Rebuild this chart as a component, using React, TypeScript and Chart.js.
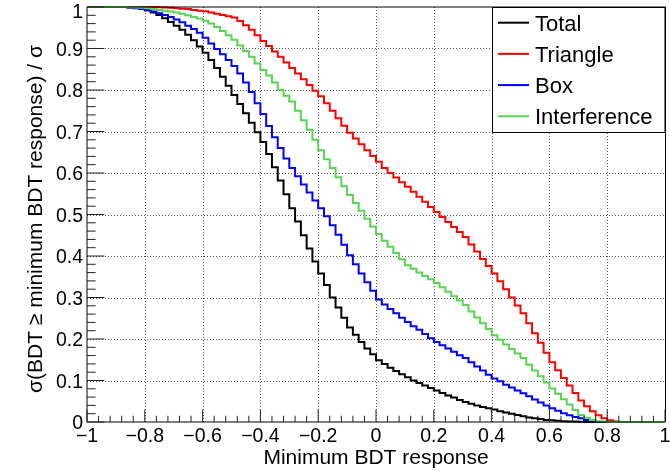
import React, { useEffect, useRef } from 'react';
import { Chart, registerables } from 'chart.js';

Chart.register(...registerables);

// ---- Data (histogram bins of width 0.02 starting at -1) ----
const BIN_LOW = -1;
const BIN_WIDTH = 0.02;

const seriesNames = ['Total', 'Triangle', 'Box', 'Interference'];
const seriesColors = ['#000000', '#ff0000', '#0000ff', '#59d454'];

const totalValues = [
  1, 1, 1, 1, 1, 1, 1,
  0.999, 0.998, 0.996, 0.992, 0.987, 0.981, 0.973, 0.964, 0.955,
  0.945, 0.933, 0.920, 0.905, 0.890, 0.872, 0.853, 0.832, 0.810, 0.788,
  0.766, 0.744, 0.721, 0.698, 0.675, 0.646, 0.614, 0.582, 0.549, 0.515,
  0.483, 0.450, 0.418, 0.387, 0.358, 0.330, 0.300, 0.276, 0.251, 0.228,
  0.210, 0.193, 0.177, 0.163, 0.149, 0.140, 0.131, 0.123, 0.115, 0.108,
  0.100, 0.094, 0.088, 0.082, 0.076, 0.070, 0.064, 0.059, 0.053, 0.048,
  0.044, 0.040, 0.036, 0.033, 0.030, 0.026, 0.023, 0.020, 0.017, 0.014,
  0.011, 0.009, 0.007, 0.005, 0.004, 0.003, 0.002, 0.0015, 0.001, 0.0005,
  0, 0, 0, 0, 0, 0, 0, 0, 0, 0, 0, 0, 0, 0,
];

const triangleValues = [
  1, 1, 1, 1, 1, 1, 1, 1, 1, 1, 1, 1,
  0.9995, 0.999, 0.998, 0.997,
  0.996, 0.995, 0.993, 0.991, 0.990, 0.987, 0.984, 0.981, 0.978, 0.975,
  0.966, 0.956, 0.945, 0.932, 0.918, 0.906, 0.893, 0.880, 0.866, 0.853,
  0.840, 0.826, 0.812, 0.798, 0.785, 0.768, 0.750, 0.732, 0.714, 0.697,
  0.683, 0.669, 0.655, 0.641, 0.627, 0.612, 0.600, 0.589, 0.578, 0.567,
  0.555, 0.543, 0.531, 0.518, 0.506, 0.494, 0.482, 0.470, 0.458, 0.446,
  0.428, 0.411, 0.393, 0.376, 0.358, 0.339, 0.320, 0.300, 0.281, 0.262,
  0.238, 0.214, 0.191, 0.167, 0.144, 0.125, 0.106, 0.088, 0.070, 0.052,
  0.038, 0.026, 0.016, 0.009, 0.004, 0.001,
  0, 0, 0, 0, 0, 0, 0, 0,
];

const boxValues = [
  1, 1, 1, 1, 1, 1, 1,
  0.999, 0.997, 0.995, 0.992, 0.989, 0.985, 0.981, 0.976, 0.970,
  0.963, 0.955, 0.947, 0.938, 0.926, 0.912, 0.899, 0.886, 0.872, 0.858,
  0.840, 0.818, 0.795, 0.768, 0.742, 0.713, 0.686, 0.660, 0.635, 0.612,
  0.592, 0.572, 0.553, 0.534, 0.515, 0.496, 0.474, 0.451, 0.427, 0.402,
  0.380, 0.358, 0.337, 0.316, 0.295, 0.283, 0.272, 0.262, 0.251, 0.241,
  0.231, 0.222, 0.212, 0.202, 0.193, 0.185, 0.177, 0.169, 0.161, 0.154,
  0.144, 0.134, 0.124, 0.114, 0.105, 0.098, 0.090, 0.083, 0.076, 0.069,
  0.062, 0.054, 0.047, 0.040, 0.033, 0.027, 0.021, 0.016, 0.012, 0.009,
  0.005, 0.002,
  0, 0, 0, 0, 0, 0, 0, 0, 0, 0, 0, 0,
];

const interferenceValues = [
  1, 1, 1, 1, 1, 1, 1,
  0.9995, 0.999, 0.998, 0.997, 0.995, 0.993, 0.991, 0.989, 0.987,
  0.984, 0.980, 0.976, 0.972, 0.967, 0.960, 0.952, 0.942, 0.932, 0.921,
  0.907, 0.894, 0.880, 0.864, 0.848, 0.835, 0.818, 0.800, 0.786, 0.772,
  0.750, 0.727, 0.704, 0.680, 0.655, 0.633, 0.612, 0.590, 0.568, 0.547,
  0.528, 0.509, 0.490, 0.471, 0.453, 0.437, 0.422, 0.407, 0.392, 0.378,
  0.369, 0.360, 0.352, 0.344, 0.335, 0.325, 0.314, 0.303, 0.293, 0.282,
  0.266, 0.252, 0.238, 0.224, 0.209, 0.198, 0.187, 0.176, 0.165, 0.154,
  0.138, 0.124, 0.110, 0.095, 0.081, 0.068, 0.055, 0.042, 0.029, 0.017,
  0.010, 0.005, 0.002, 0.001,
  0, 0, 0, 0, 0, 0, 0, 0, 0, 0,
];

const xTickValues = [-1, -0.8, -0.6, -0.4, -0.2, 0, 0.2, 0.4, 0.6, 0.8, 1];
const xTickLabels = ['\u22121', '\u22120.8', '\u22120.6', '\u22120.4', '\u22120.2', '0', '0.2', '0.4', '0.6', '0.8', '1'];
const yTickValues = [0, 0.1, 0.2, 0.3, 0.4, 0.5, 0.6, 0.7, 0.8, 0.9, 1];
const yTickLabels = ['0', '0.1', '0.2', '0.3', '0.4', '0.5', '0.6', '0.7', '0.8', '0.9', '1'];
const X_MINOR_STEP = 0.04;
const Y_MINOR_STEP = 0.02;

const xTitle = 'Minimum BDT response';
const yTitle = '\u03c3(BDT \u2265 minimum BDT response) / \u03c3';

const FONT = '"Liberation Sans", Arial, Helvetica, sans-serif';

function toSteps(values: number[]) {
  const pts = values.map((v, i) => ({ x: BIN_LOW + i * BIN_WIDTH, y: v }));
  pts.push({ x: BIN_LOW + values.length * BIN_WIDTH, y: values[values.length - 1] });
  return pts;
}

const rootStyle = {
  id: 'rootStyle',
  beforeDatasetsDraw(chart: any) {
    const { ctx, chartArea: a, scales } = chart;
    const x = scales.x, y = scales.y;
    ctx.save();
    ctx.strokeStyle = '#555';
    ctx.lineWidth = 1;
    ctx.setLineDash([1, 2]);
    for (const v of xTickValues) {
      if (v <= -1 || v >= 1) continue;
      const px = Math.round(x.getPixelForValue(v)) + 0.5;
      ctx.beginPath();
      ctx.moveTo(px, a.top);
      ctx.lineTo(px, a.bottom);
      ctx.stroke();
    }
    for (const v of yTickValues) {
      if (v <= 0 || v >= 1) continue;
      const py = Math.round(y.getPixelForValue(v)) + 0.5;
      ctx.beginPath();
      ctx.moveTo(a.left, py);
      ctx.lineTo(a.right, py);
      ctx.stroke();
    }
    ctx.restore();
  },
  afterDatasetsDraw(chart: any) {
    const { ctx, chartArea: a, scales } = chart;
    const x = scales.x, y = scales.y;
    ctx.save();
    ctx.setLineDash([]);

    // frame
    ctx.strokeStyle = '#000';
    ctx.lineWidth = 1;
    ctx.beginPath();
    ctx.moveTo(a.left, a.top);
    ctx.lineTo(a.right + 0.5, a.top);
    ctx.moveTo(a.right + 0.5, a.top);
    ctx.lineTo(a.right + 0.5, a.bottom);
    ctx.moveTo(a.left, a.bottom);
    ctx.lineTo(a.right, a.bottom);
    ctx.moveTo(a.left, a.top);
    ctx.lineTo(a.left, a.bottom);
    ctx.stroke();

    // ticks
    const h = a.bottom - a.top;
    const w = a.right - a.left;
    const xMaj = 0.03 * h, xMin = 0.015 * h;
    const yMaj = 0.03 * w, yMin = 0.015 * w;
    ctx.strokeStyle = '#222';
    ctx.beginPath();
    const nx = Math.round(2 / X_MINOR_STEP);
    for (let i = 0; i <= nx; i++) {
      const v = -1 + i * X_MINOR_STEP;
      const px = x.getPixelForValue(v);
      const len = i % 5 === 0 ? xMaj : xMin;
      ctx.moveTo(px, a.bottom);
      ctx.lineTo(px, a.bottom - len);
    }
    const ny = Math.round(1 / Y_MINOR_STEP);
    for (let i = 0; i <= ny; i++) {
      const v = i * Y_MINOR_STEP;
      const py = y.getPixelForValue(v);
      const len = i % 5 === 0 ? yMaj : yMin;
      ctx.moveTo(a.left, py);
      ctx.lineTo(a.left + len, py);
    }
    ctx.stroke();

    // tick labels
    ctx.fillStyle = '#000';
    ctx.font = `19.5px ${FONT}`;
    ctx.textBaseline = 'alphabetic';
    ctx.textAlign = 'right';
    yTickValues.forEach((v, i) => {
      const py = Math.max(y.getPixelForValue(v), 11);
      ctx.fillText(yTickLabels[i], a.left - 4, py + 7);
    });
    ctx.textAlign = 'center';
    xTickValues.forEach((v, i) => {
      ctx.fillText(xTickLabels[i], x.getPixelForValue(v), a.bottom + 20);
    });

    // titles
    ctx.font = `21px ${FONT}`;
    ctx.textAlign = 'center';
    ctx.fillText(xTitle, (a.left + a.right) / 2, 463.5);
    ctx.save();
    ctx.translate(42, 219);
    ctx.rotate(-Math.PI / 2);
    ctx.fillText(yTitle, 0, 0);
    ctx.restore();

    // legend
    const lx = 492.5, ly = 7.5, lw = 172.5, lh = 125;
    ctx.fillStyle = '#fff';
    ctx.fillRect(lx, ly, lw, lh);
    ctx.strokeStyle = '#000';
    ctx.lineWidth = 1;
    ctx.strokeRect(lx, ly, lw, lh);
    ctx.font = `22px ${FONT}`;
    ctx.textAlign = 'left';
    seriesNames.forEach((name, i) => {
      const cy = 22.7 + i * 31.2;
      ctx.strokeStyle = seriesColors[i];
      ctx.lineWidth = 2;
      ctx.beginPath();
      ctx.moveTo(498, cy);
      ctx.lineTo(529, cy);
      ctx.stroke();
      ctx.fillStyle = '#000';
      ctx.fillText(name, 535, cy + 8);
    });
    ctx.restore();
  },
};

export default function App() {
  const ref = useRef<HTMLCanvasElement | null>(null);
  useEffect(() => {
    document.body.style.margin = '0';
    const allValues = [totalValues, triangleValues, boxValues, interferenceValues];
    const chart = new Chart(ref.current as HTMLCanvasElement, {
      type: 'line',
      data: {
        datasets: allValues.map((vals, i) => ({
          label: seriesNames[i],
          data: toSteps(vals),
          borderColor: seriesColors[i],
          backgroundColor: seriesColors[i],
          borderWidth: 2,
          pointRadius: 0,
          stepped: 'before' as const,
          fill: false,
          tension: 0,
          clip: false as any,
          order: 3 - i,
        })),
      },
      options: {
        animation: false,
        responsive: false,
        devicePixelRatio: 1,
        events: [],
        layout: { padding: { left: 87, right: 5, top: 7, bottom: 49 } },
        plugins: { legend: { display: false }, tooltip: { enabled: false } },
        scales: {
          x: { type: 'linear', min: -1, max: 1, display: false },
          y: { type: 'linear', min: 0, max: 1, display: false },
        },
      },
      plugins: [rootStyle],
    });
    return () => chart.destroy();
  }, []);
  return (
    <canvas
      ref={ref}
      width={670}
      height={471}
      style={{ display: 'block', width: 670, height: 471, position: 'absolute', left: 0, top: 0 }}
    />
  );
}
